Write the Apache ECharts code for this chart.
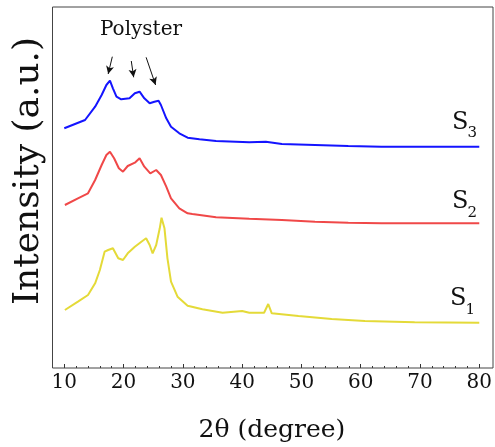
<!DOCTYPE html>
<html><head><meta charset="utf-8">
<script src="https://cdn.jsdelivr.net/npm/echarts@6/dist/echarts.min.js"></script>
<style>html,body{margin:0;padding:0;background:#fff}#c{width:495px;height:447px}</style>
</head><body><div id="c"></div>
<script>
// 2θ (degree) / intensity (a.u.) readings
const s3Angle = [10.0,13.5,15.2,16.3,17.1,17.7,18.2,18.8,19.6,21.0,21.9,22.7,23.5,24.4,25.2,25.9,26.3,27.2,28.0,29.4,30.8,32.8,35.6,41.2,44.0,46.7,52.3,57.9,63.5,69.1,80.0];
const s3Int   = [239.7,248,261.3,273,283,287.3,279.7,271.3,268.7,269.7,274.7,276.3,269.7,264.7,266.3,267.3,263,249.7,241.3,234.7,230.3,228.7,227,225.7,226.3,224,223,222,221.3,221.3,221.3];

const s2Angle = [10.1,12.3,14.0,15.2,16.3,17.1,17.7,18.4,19.2,19.9,20.7,21.9,22.7,23.5,24.5,25.5,26.3,27.2,28.0,29.4,30.8,31.6,35.6,41.2,46.7,52.3,57.9,63.5,80.0];
const s2Int   = [163,169.7,174.7,188,203,213,216.3,209.7,199.7,196.3,202,205.3,209.7,201.3,194.7,198,193,181.3,169.7,159.7,154.7,154,150.7,149.3,148,146.3,145.3,144.7,144.7];

const s1Angle = [10.1,12.3,14.0,15.2,16.0,16.8,17.4,18.2,19.1,19.9,20.7,21.9,23.0,23.8,24.4,24.9,25.5,26.1,26.4,26.9,27.4,28.0,29.1,30.8,33.3,36.7,40.0,41.2,43.7,44.4,45.0,49.5,55.1,60.7,69.1,80.0];
const s1Int   = [58,66.3,73,84.7,98,116.3,118,119.7,109.7,108,114.7,121.3,126.3,129.7,123,114.7,123,139.7,150.3,139.7,109.7,86.3,71.3,62.3,58.7,55.3,57,55.3,55.3,64,54.7,52,49,47,45.7,45.3];

const xTicks = [10,20,30,40,50,60,70,80];
const seriesNames = ['S3','S2','S1'];
// arrows pointing at the polyester peaks: [from angle, from int, to angle, to int]
const arrowSegments = [[18.1,311.3,17.4,294],[21.3,307,21.7,290.7],[23.8,310.7,25.4,283]];

const zip = (a,b)=>a.map((v,i)=>[v,b[i]]);
const FONT = '"DejaVu Serif", serif';
const chart = echarts.init(document.getElementById('c'), null, {renderer:'canvas'});
const sub = (x,y,t,size)=>({type:'text',x:x,y:y,style:{text:t,font:size+'px '+FONT,fill:'#111',align:'left',verticalAlign:'middle'}});
chart.setOption({
  animation:false,
  backgroundColor:'#fff',
  grid:[
    {left:64.3,right:13.3,top:7,bottom:79,show:false},
    {left:52.5,right:2,top:7,bottom:79,show:true,borderColor:'#444',borderWidth:1,backgroundColor:'transparent',z:5}
  ],
  xAxis:[
    {type:'value',gridIndex:0,min:xTicks[0],max:xTicks[xTicks.length-1],interval:10,
     axisLine:{show:false},
     axisTick:{show:true,inside:true,length:4,lineStyle:{color:'#333',width:1}},
     minorTick:{show:true,splitNumber:5,length:2,lineStyle:{color:'#333',width:1}},
     splitLine:{show:false},
     axisLabel:{margin:5,fontFamily:FONT,fontSize:20,color:'#111'}},
    {type:'value',gridIndex:1,show:false,min:0,max:1}
  ],
  yAxis:[
    {type:'value',gridIndex:0,min:0,max:361,show:false},
    {type:'value',gridIndex:1,min:0,max:1,show:false}
  ],
  series:[
    {name:seriesNames[0],type:'line',data:zip(s3Angle,s3Int),showSymbol:false,lineStyle:{color:'#1414ff',width:2},
     markLine:{silent:true,symbol:['none','arrow'],symbolSize:[6,8],label:{show:false},
       lineStyle:{color:'#111',width:1,type:'solid'},
       data:arrowSegments.map(a=>[{coord:[a[0],a[1]]},{coord:[a[2],a[3]]}])}},
    {name:seriesNames[1],type:'line',data:zip(s2Angle,s2Int),showSymbol:false,lineStyle:{color:'#f04848',width:2}},
    {name:seriesNames[2],type:'line',data:zip(s1Angle,s1Int),showSymbol:false,lineStyle:{color:'#e4da38',width:2}}
  ],
  graphic:[
    {type:'text',x:141,y:30,style:{text:'Polyster',font:'20px '+FONT,fill:'#111',align:'center',verticalAlign:'middle'}},
    {type:'text',x:272,y:430,style:{text:'2θ (degree)',font:'25px '+FONT,fill:'#111',align:'center',verticalAlign:'middle'}},
    {type:'text',x:29,y:171,rotation:Math.PI/2,style:{text:'Intensity (a.u.)',font:'36px '+FONT,fill:'#111',align:'center',verticalAlign:'middle'}},
    sub(452,122.5,'S',24), sub(467.5,133,'3',15),
    sub(452,202,'S',24), sub(467.5,213.5,'2',15),
    sub(450,299,'S',24), sub(465.5,310,'1',15)
  ]
});
</script></body></html>
